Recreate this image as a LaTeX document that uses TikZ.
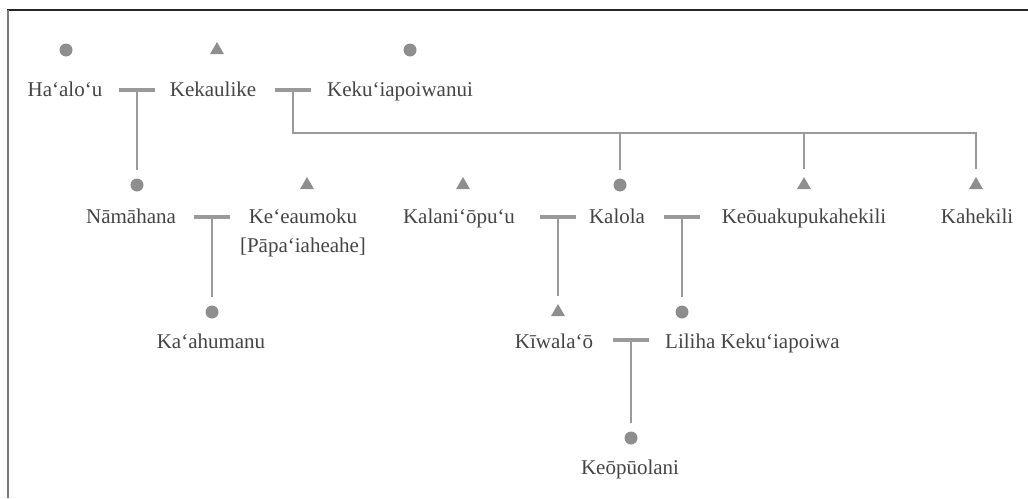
\documentclass[tikz,border=0pt]{standalone}
\usepackage{fontspec}
\setmainfont{Liberation Serif}
\usepackage{tikz}
\usetikzlibrary{shapes.geometric}
\definecolor{txtgray}{HTML}{444444}
\definecolor{symgray}{HTML}{8E8E8E}
\definecolor{lngray}{HTML}{9A9A9A}
\definecolor{framedark}{HTML}{262626}

\begin{document}
\begin{tikzpicture}[x=1pt, y=-1pt,
      fem/.style={circle, fill=symgray, inner sep=0pt, minimum size=13pt},
      mal/.style={regular polygon, regular polygon sides=3, fill=symgray,
                  inner sep=0pt, minimum size=16pt},
      nm/.style={anchor=base, text=txtgray, inner sep=0pt,
                 font=\fontsize{21}{29}\selectfont},
      wed/.style={fill=lngray, inner sep=0pt, minimum width=36pt, minimum height=4pt},
      ln/.style={draw=lngray, line width=2pt, shorten >=8pt}
  ]
    \useasboundingbox (0,0) rectangle (1028,498);
    \draw[framedark, line width=2pt] (7,10) -- (1028,10);
    \draw[lngray!80!black, line width=2pt] (8,10) -- (8,498);

    % first generation
    \node[fem] (haalou-s) at (66,50) {};
    \node[nm]  (haalou)   at (65,96) {Ha‘alo‘u};
    \node[mal] (kekaulike-s) at (217,50) {};
    \node[nm]  (kekaulike)   at (213,96) {Kekaulike};
    \node[fem] (kekuia-s) at (410,50) {};
    \node[nm]  (kekuia)   at (400,96) {Keku‘iapoiwanui};
    \node[wed] (m1) at (137,90) {};
    \node[wed] (m2) at (293,90) {};
    \coordinate (bus) at (293,133);

    % second generation
    \node[fem] (namahana-s) at (137,185) {};
    \node[nm]  (namahana)   at (131,223) {Nāmāhana};
    \node[mal] (keeaumoku-s) at (307,185) {};
    \node[nm]  (keeaumoku)   at (303,223) {Ke‘eaumoku};
    \node[nm]  (keeaumoku-b) at (303,252) {[Pāpa‘iaheahe]};
    \node[mal] (kalaniopuu-s) at (463,185) {};
    \node[nm]  (kalaniopuu)   at (459,223) {Kalani‘ōpu‘u};
    \node[fem] (kalola-s) at (620,185) {};
    \node[nm]  (kalola)   at (617,223) {Kalola};
    \node[mal] (keoua-s) at (804,185) {};
    \node[nm]  (keoua)   at (804,223) {Keōuakupukahekili};
    \node[mal] (kahekili-s) at (976,185) {};
    \node[nm]  (kahekili)   at (977,223) {Kahekili};
    \node[wed] (m3) at (212,217) {};
    \node[wed] (m4) at (558,217) {};
    \node[wed] (m5) at (682,217) {};

    % third generation
    \node[fem] (kaahumanu-s) at (212,312) {};
    \node[nm]  (kaahumanu)   at (211,348) {Ka‘ahumanu};
    \node[mal] (kiwalao-s) at (558,312) {};
    \node[nm]  (kiwalao)   at (554,348) {Kīwala‘ō};
    \node[fem] (liliha-s) at (682,312) {};
    \node[nm, anchor=base west] (liliha) at (665,348) {Liliha Keku‘iapoiwa};
    \node[wed] (m6) at (631,340) {};

    % fourth generation
    \node[fem] (keopuolani-s) at (631,438) {};
    \node[nm]  (keopuolani)   at (630,474) {Keōpūolani};

    \draw[ln] (m1) -- (namahana-s);
    \draw[ln] (m2) -- (bus) -| (kalola-s);
    \draw[ln] (bus) -| (keoua-s);
    \draw[ln] (bus) -| (kahekili-s);
    \draw[ln] (m3) -- (kaahumanu-s);
    \draw[ln] (m4) -- (kiwalao-s);
    \draw[ln] (m5) -- (liliha-s);
    \draw[ln] (m6) -- (keopuolani-s);
  \end{tikzpicture}
\end{document}
